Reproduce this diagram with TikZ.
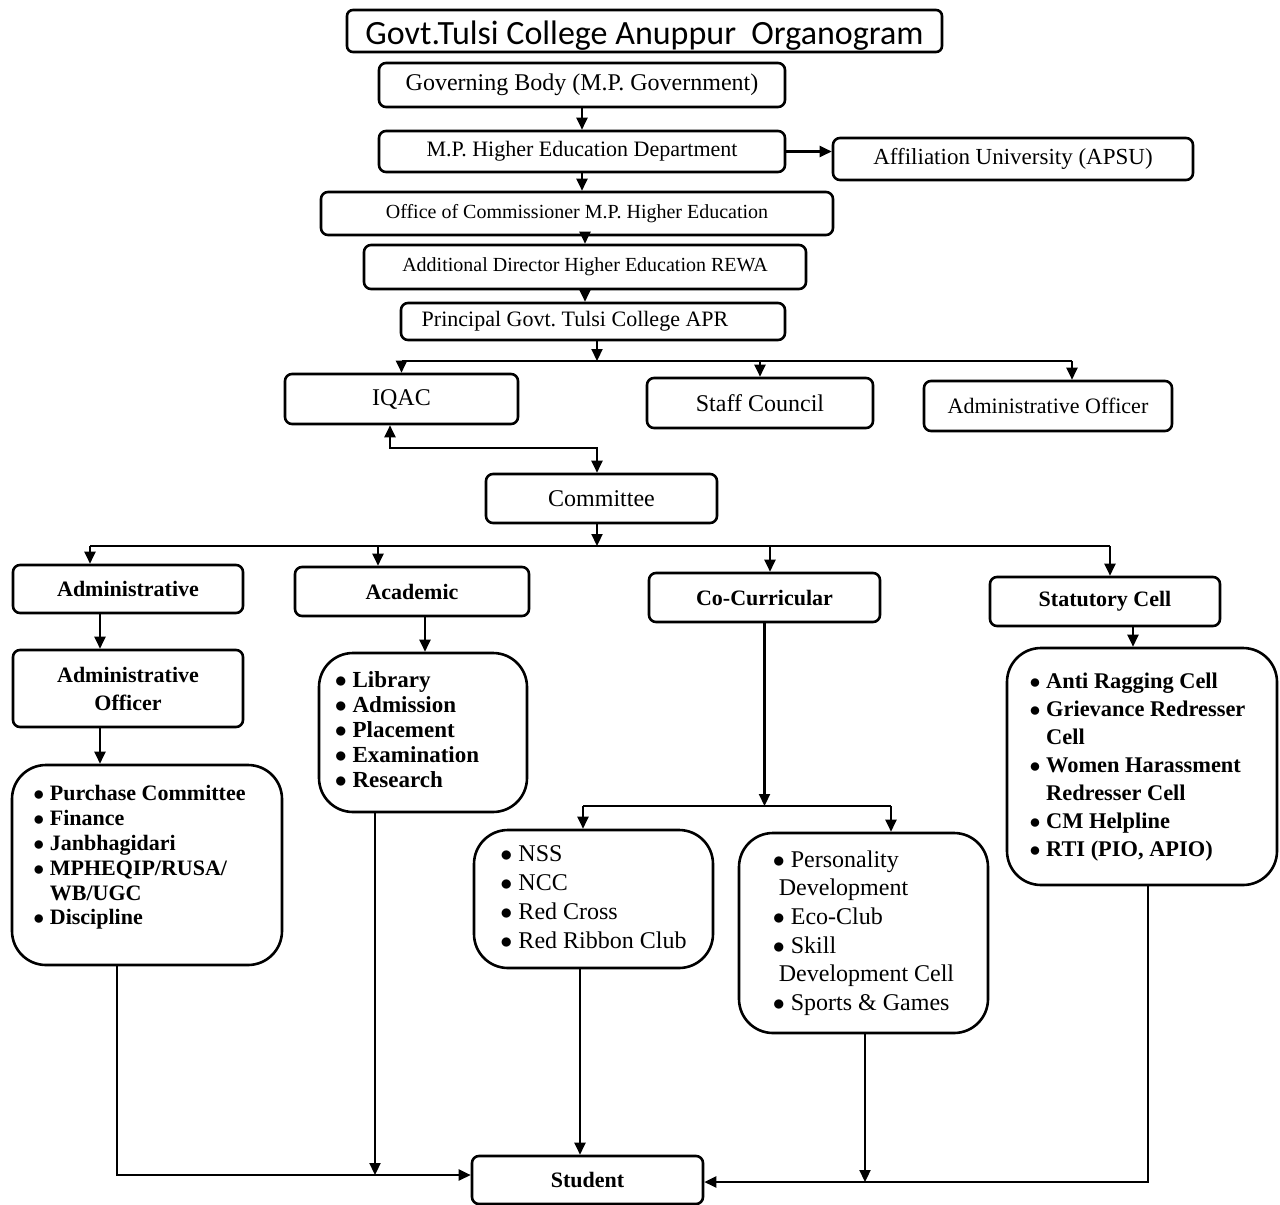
\documentclass[tikz,border=0pt]{standalone}
\usepackage{fontspec}
\setmainfont{Liberation Serif}
\newfontfamily\titlefont{Carlito}
\usetikzlibrary{arrows.meta}

\begin{document}
\begin{tikzpicture}[x=0.5pt,y=-0.5pt,
        box/.style={draw=black,line width=1.3pt,rounded corners=3.5pt,inner sep=0pt,align=center},
        listbox/.style={draw=black,line width=1.3pt,rounded corners=17pt,inner sep=0pt},
        line/.style={black,line width=1.1pt},
        link/.style={black,line width=1.1pt,-{Triangle[length=6pt,width=5.5pt]}},
        twoway/.style={black,line width=1.1pt,{Triangle[length=6pt,width=5.5pt]}-{Triangle[length=6pt,width=5.5pt]}}]
            \useasboundingbox (0,0) rectangle (1280,1205);

            % top chain
            \node[box,rounded corners=3pt,minimum width=297.5pt,minimum height=21pt,text height=17pt,text depth=4pt,font=\titlefont\fontsize{17}{20}\selectfont] (title) at (644.5,31) {Govt.Tulsi College Anuppur\ \ Organogram};
            \node[box,minimum width=203pt,minimum height=22pt,font=\fontsize{12}{14}\selectfont] (gov) at (582,85) {Governing Body (M.P. Government)};
            \node[box,minimum width=203pt,minimum height=20.5pt,font=\fontsize{11}{13}\selectfont] (mphe) at (582,151.5) {M.P. Higher Education Department};
            \node[box,minimum width=180pt,minimum height=21pt,font=\fontsize{11.5}{13}\selectfont] (affil) at (1013,159) {Affiliation University (APSU)};
            \node[box,minimum width=256pt,minimum height=21.5pt,font=\fontsize{10}{12}\selectfont] (office) at (577,213.5) {Office of Commissioner M.P. Higher Education};
            \node[box,minimum width=221pt,minimum height=22pt,font=\fontsize{10}{12}\selectfont] (addl) at (585,267) {Additional Director Higher Education REWA};
            \node[box,minimum width=192pt,minimum height=18.5pt,font=\fontsize{11}{13}\selectfont] (principal) at (593,321.5) {Principal Govt.\ Tulsi College APR\hspace*{18pt}};

            % second level
            \node[box,minimum width=116.5pt,minimum height=25pt,font=\fontsize{12}{14}\selectfont] (iqac) at (401.5,399) {IQAC};
            \node[box,minimum width=113pt,minimum height=25pt,font=\fontsize{12}{14}\selectfont] (staff) at (760,403) {Staff Council};
            \node[box,minimum width=124pt,minimum height=25pt,font=\fontsize{11}{13}\selectfont] (aoff) at (1048,406) {Administrative Officer};
            \node[box,minimum width=115.5pt,minimum height=24.5pt,font=\fontsize{12}{14}\selectfont] (committee) at (601.5,498.5) {Committee};

            % committee groups
            \node[box,minimum width=115pt,minimum height=24pt,font=\bfseries\fontsize{11}{13}\selectfont] (adm) at (128,589) {Administrative};
            \node[box,minimum width=117pt,minimum height=24.5pt,font=\bfseries\fontsize{11}{13}\selectfont] (acad) at (412,591.5) {Academic};
            \node[box,minimum width=115.5pt,minimum height=24.5pt,font=\bfseries\fontsize{11}{13}\selectfont] (cocur) at (764.5,597.5) {Co-Curricular};
            \node[box,minimum width=115pt,minimum height=24.5pt,font=\bfseries\fontsize{11}{13}\selectfont] (stat) at (1105,601.5) {Statutory Cell};
            \node[box,minimum width=115pt,minimum height=38.5pt,font=\bfseries\fontsize{11}{14}\selectfont] (admoff) at (128,688.5) {Administrative\\Officer};

            % lists
            \node[listbox,minimum width=135pt,minimum height=100pt,font=\bfseries\fontsize{11}{12.4}\selectfont] (admlist) at (147,865)
                {\begin{tabular}{@{}l@{\hspace{7.5pt}}}$\bullet$\ Purchase Committee\\ $\bullet$\ Finance\\ $\bullet$\ Janbhagidari\\ $\bullet$\ MPHEQIP/RUSA/\\ \phantom{$\bullet$}\ WB/UGC\\ $\bullet$\ Discipline\\[7pt]\end{tabular}};
            \node[listbox,minimum width=104pt,minimum height=79.5pt,font=\bfseries\fontsize{11.5}{12.6}\selectfont] (acadlist) at (423,732.5)
                {\begin{tabular}{@{}l@{\hspace{16pt}}}$\bullet$\ Library\\ $\bullet$\ Admission\\ $\bullet$\ Placement\\ $\bullet$\ Examination\\ $\bullet$\ Research\end{tabular}};
            \node[listbox,minimum width=119.5pt,minimum height=69pt,font=\fontsize{12}{14.5}\selectfont] (nss) at (593.5,899)
                {\begin{tabular}{@{}l@{}}$\bullet$\ NSS\\ $\bullet$\ NCC\\ $\bullet$\ Red Cross\\ $\bullet$\ Red Ribbon Club\end{tabular}};
            \node[listbox,minimum width=124.5pt,minimum height=100pt,font=\fontsize{12}{14.3}\selectfont] (pers) at (863.5,933)
                {\begin{tabular}{@{}l@{}}$\bullet$\ Personality\\ \hspace*{3pt}Development\\ $\bullet$\ Eco-Club\\ $\bullet$\ Skill\\ \hspace*{3pt}Development Cell\\ $\bullet$\ Sports \& Games\end{tabular}};
            \node[listbox,minimum width=135pt,minimum height=118.5pt,font=\bfseries\fontsize{11.2}{14}\selectfont] (statlist) at (1142,766.5)
                {\begin{tabular}{@{}l@{\hspace{4.5pt}}}$\bullet$\ Anti Ragging Cell\\ $\bullet$\ Grievance Redresser\\ \phantom{$\bullet$}\ Cell\\ $\bullet$\ Women Harassment\\ \phantom{$\bullet$}\ Redresser Cell\\ $\bullet$\ CM Helpline\\ $\bullet$\ RTI (PIO, APIO)\end{tabular}};

            \node[box,minimum width=115.5pt,minimum height=24pt,font=\bfseries\fontsize{11}{13}\selectfont] (student) at (587.5,1180) {Student};

            % top links
            \draw[link] (gov.south) -- (mphe.north);
            \draw[link] (mphe.east) -- (mphe.east -| affil.west);
            \draw[link] (mphe.south) -- (mphe.south |- office.north);
            \draw[link] (office.south -| addl.north) -- (addl.north);
            \draw[link] (addl.south) -- (addl.south |- principal.north);

            % principal to second level
            \coordinate (bus1) at (597,361);
            \coordinate (bus1r) at (1072,361);
            \draw[link] (principal.south -| bus1) -- (bus1);
            \draw[line] (bus1 -| iqac.north) -- (bus1r);
            \draw[link] (bus1 -| iqac.north) -- (iqac.north);
            \draw[link] (bus1 -| staff.north) -- (staff.north);
            \draw[link] (bus1r) -- (bus1r |- aoff.north);

            % iqac and committee
            \coordinate (iqa) at (390,448);
            \coordinate (iqb) at (597,448);
            \draw[twoway] (iqa |- iqac.south) -- (iqa) -- (iqb) -- (iqb |- committee.north);

            % committee to groups
            \coordinate (bus2) at (597,546);
            \coordinate (dadm) at (90,546);
            \coordinate (dacad) at (378,546);
            \coordinate (dcocur) at (770,546);
            \coordinate (dstat) at (1110,546);
            \draw[link] (committee.south -| bus2) -- (bus2);
            \draw[line] (dadm) -- (dstat);
            \draw[link] (dadm) -- (dadm |- adm.north);
            \draw[link] (dacad) -- (dacad |- acad.north);
            \draw[link] (dcocur) -- (dcocur |- cocur.north);
            \draw[link] (dstat) -- (dstat |- stat.north);

            % groups to lists
            \draw[link] ([xshift=-14pt]adm.south) -- ([xshift=-14pt]admoff.north);
            \draw[link] ([xshift=-14pt]admoff.south) -- ([xshift=-14pt]admoff.south |- admlist.north);
            \draw[link] ([xshift=6.5pt]acad.south) -- ([xshift=6.5pt]acad.south |- acadlist.north);
            \draw[link] ([xshift=14pt]stat.south) -- ([xshift=14pt]stat.south |- statlist.north);

            \coordinate (bus3) at (766,806);
            \coordinate (bus3l) at (583,806);
            \coordinate (bus3r) at (891,806);
            \draw[link] (cocur.south) -- (cocur.south |- bus3);
            \draw[line] (bus3l) -- (bus3r);
            \draw[link] (bus3l) -- (bus3l |- nss.north);
            \draw[link] (bus3r) -- (bus3r |- pers.north);

            % lists to student
            \coordinate (s1) at (117,1175);
            \coordinate (s2) at (375,1175);
            \coordinate (s3) at (580,1156);
            \coordinate (s4) at (865,1182);
            \coordinate (s5) at (1148,1182);
            \draw[link] (s1 |- admlist.south) -- (s1) -- (s1 -| student.west);
            \draw[link] (s2 |- acadlist.south) -- (s2);
            \draw[link] (s3 |- nss.south) -- (s3 |- student.north);
            \draw[link] (s4 |- pers.south) -- (s4);
            \draw[link] (s5 |- statlist.south) -- (s5) -- (s5 -| student.east);
        \end{tikzpicture}
\end{document}
